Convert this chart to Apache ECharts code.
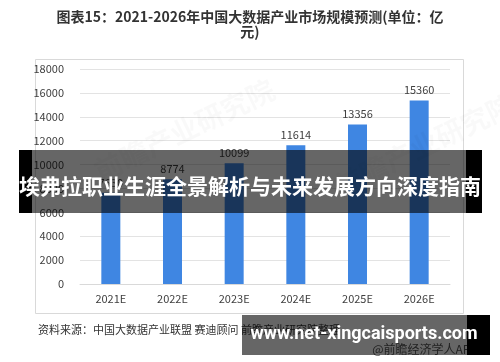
<!DOCTYPE html>
<html><head><meta charset="utf-8">
<script src="https://cdn.jsdelivr.net/npm/echarts@6/dist/echarts.min.js"></script>
<style>html,body{margin:0;padding:0;background:#fff}#c{width:500px;height:362px}</style>
</head><body><div id="c"></div>
<script>
const categories = ['2021E','2022E','2023E','2024E','2025E','2026E'];
const values = [7630, 8774, 10099, 11614, 13356, 15360];
const yTicks = [0,2000,4000,6000,8000,10000,12000,14000,16000,18000];
const titleLine1 = '图表15：2021-2026年中国大数据产业市场规模预测(单位：亿';
const titleLine2 = '元)';
const sourceText = '资料来源：中国大数据产业联盟 赛迪顾问 前瞻产业研究院整理';
const bannerText = '埃弗拉职业生涯全景解析与未来发展方向深度指南';
const siteText = 'www.net-xingcaisports.com';
const appText = '@前瞻经济学人APP';

const FONT = '"Noto Sans CJK SC", "Noto Sans", sans-serif';
const chart = echarts.init(document.getElementById('c'), null, {renderer:'canvas'});
chart.setOption({
  animation:false,
  backgroundColor:'#fff',
  textStyle:{fontFamily:FONT},
  grid:{left:80,right:50,top:69,bottom:78},
  xAxis:{type:'category',data:categories,
    axisLine:{lineStyle:{color:'#d9d9d9'}},axisTick:{show:false},
    axisLabel:{color:'#404040',fontSize:11,margin:9,fontFamily:FONT}},
  yAxis:{type:'value',min:yTicks[0],max:yTicks[yTicks.length-1],interval:2000,
    axisLine:{show:false},axisTick:{show:false},
    splitLine:{lineStyle:{color:'#e3e3e3'}},
    axisLabel:{color:'#404040',fontSize:11,margin:16,fontFamily:FONT,formatter:v=>String(v)}},
  series:[{type:'bar',data:values,barWidth:19,
    itemStyle:{color:'#3f86e2'},
    label:{show:true,position:'top',color:'#404040',fontSize:11,distance:5,fontFamily:FONT}}],
  graphic:[
    {type:'text',x:250,y:17,style:{text:titleLine1,fill:'#333',font:'bold 14px '+FONT,textAlign:'center',textVerticalAlign:'middle'}},
    {type:'text',x:250,y:32,style:{text:titleLine2,fill:'#333',font:'bold 14px '+FONT,textAlign:'center',textVerticalAlign:'middle'}},
    {type:'rect',shape:{x:35.5,y:59.5,width:428,height:254},style:{fill:'none',stroke:'#d9d9d9',lineWidth:1},z:-1},
    {type:'text',left:38,top:324,style:{text:sourceText,fill:'#333',font:'11px '+FONT}},
    {type:'text',right:22,top:343,style:{text:appText,fill:'#555',font:'12px '+FONT}},
    {type:'text',x:90,y:160,rotation:Math.PI/7,style:{text:'前瞻产业研究院',fill:'rgba(0,0,0,0.025)',font:'bold 28px '+FONT},z:50},
    {type:'text',x:330,y:175,rotation:Math.PI/7,style:{text:'前瞻产业研究院',fill:'rgba(0,0,0,0.025)',font:'bold 28px '+FONT},z:50},
    {type:'rect',shape:{x:19,y:150,width:463,height:63},style:{fill:'rgba(0,0,0,0.6)'},z:100},
    {type:'rect',shape:{x:19,y:150,width:13,height:63},style:{fill:'#000'},z:100},
    {type:'rect',shape:{x:466,y:150,width:16,height:63},style:{fill:'#000'},z:100},
    {type:'text',x:250,y:186,style:{text:bannerText,fill:'#fff',font:'bold 21px '+FONT,textAlign:'center',textVerticalAlign:'middle'},z:101},
    {type:'rect',shape:{x:242,y:315,width:248,height:40},style:{fill:'rgba(0,0,0,0.6)'},z:100},
    {type:'rect',shape:{x:467,y:315,width:23,height:40},style:{fill:'#000'},z:100},
    {type:'text',x:364,y:334,style:{text:siteText,fill:'#fff',font:'bold 18px Roboto, "Liberation Sans", sans-serif',textAlign:'center',textVerticalAlign:'middle'},z:101}
  ]
});
</script></body></html>
